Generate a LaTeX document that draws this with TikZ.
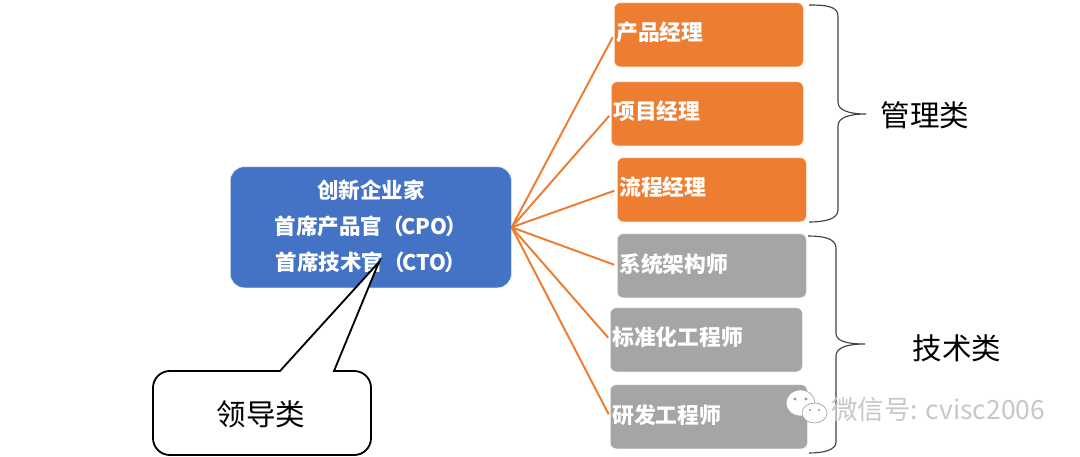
\documentclass[tikz,border=0pt]{standalone}
\usepackage{fontspec}
\setmainfont{Noto Sans CJK SC}
\definecolor{Blue}{HTML}{4472C4}
\definecolor{Orange}{HTML}{ED7D31}
\definecolor{Grey}{HTML}{A5A5A5}
\usetikzlibrary{positioning, calc}
\tikzset{
    rolebox/.style={draw=white!80!#1,fill=#1,rounded corners=0.15cm,anchor=north west,minimum height=1.6cm,
        inner xsep=0.05cm,text depth=0.16cm,align=left,text=white,font=\fontsize{15.5}{18}\selectfont\bfseries},
    fanline/.style={-,Orange,line width=1.4pt,shorten >=2pt},
    bracket/.style={-,black!75,line width=0.8pt},
    classlabel/.style={font=\fontsize{21}{24}\selectfont,text=black},
    wechat/.style={draw=black!35,fill=white,line width=0.5pt}
}
\begin{document}
\begin{tikzpicture}[x=0.025cm,y=-0.025cm]

    \useasboundingbox (0,0) rectangle (1080,457);

    % leader box
    \node[draw=white!80!Blue,fill=Blue,rounded corners=0.35cm,anchor=north west,minimum width=7.025cm,minimum height=3.025cm,
        text depth=0.12cm,align=center,text=white,font=\fontsize{15.3}{25.5}\selectfont\bfseries] (leader) at (230,166.5)
        {创新企业家\\首席产品官（\kern-0.06cm CPO\kern-0.06cm）\\首席技术官（\kern-0.06cm CTO\kern-0.06cm）};

    % role boxes
    \node[rolebox=Orange,text width=4.625cm] (product) at (614,2.5) {产品经理};
    \node[rolebox=Orange,text width=4.7cm] (project) at (611,81.5) {项目经理};
    \node[rolebox=Orange,text width=4.625cm] (process) at (617,157.5) {流程经理};
    \node[rolebox=Grey,text width=4.625cm] (architect) at (617,233.5) {系统架构师};
    \node[rolebox=Grey,text width=4.7cm] (standard) at (610,307.5) {标准化工程师};
    \node[rolebox=Grey,text width=4.825cm] (research) at (610,384.5) {研发工程师};

    % fan of lines
    \foreach \role in {product,project,process,architect,standard,research}
        \draw[fanline] (leader.east) -- (\role.west);

    % callout
    \draw[black,line width=1.3pt,fill=white,rounded corners=0.42cm]
        (280,371) -- (153,371) -- (153,455) -- (371,455) -- (371,371)
        [sharp corners] -- (334,371) -- (379,262) -- cycle;
    \node[classlabel] (leaderclass) at (261,414) {领导类};

    % braces
    \draw[bracket] (809,5) .. controls (825,5) and (838,6) .. (838,16) -- (838,102)
        .. controls (838,110) and (848,114) .. (866,114)
        .. controls (848,114) and (838,118) .. (838,126) -- (838,210)
        .. controls (838,219) and (825,222) .. (809,222);
    \draw[bracket] (808,236) .. controls (822,236) and (836,238) .. (836,248) -- (836,333)
        .. controls (836,341) and (846,344) .. (865,344)
        .. controls (846,344) and (836,348) .. (836,356) -- (836,442)
        .. controls (836,450) and (824,453) .. (809,453);
    \node[classlabel] (manageclass) at (925,115) {管理类};
    \node[classlabel] (techclass) at (957,348) {技术类};

    % watermark
    \draw[wechat] (789,414) -- (794,410) -- (799,414) -- cycle;
    \draw[wechat] (800.5,403) ellipse (14.5 and 13);
    \draw[wechat] (822,420) -- (815,418) -- (820,412) -- cycle;
    \draw[wechat] (814.5,413) ellipse (12.5 and 10);
    \fill[black!40] (795,399) circle (1.6) (806,399) circle (1.6) (810,410) circle (1.2) (819,410) circle (1.2);
    \node[anchor=west,inner sep=0pt,text=black!22,font=\fontsize{18.8}{20}\selectfont] (mark) at (831,409) {微信号: cvisc2006};

\end{tikzpicture}
\end{document}
